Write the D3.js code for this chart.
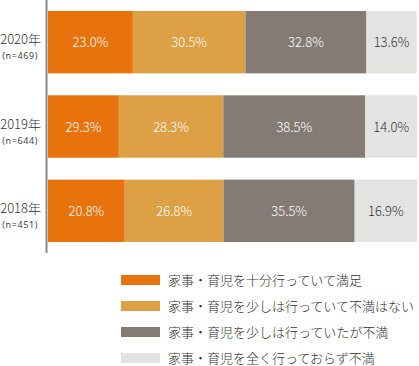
<!DOCTYPE html>
<html>
<head>
<meta charset="utf-8">
<script src="https://cdn.jsdelivr.net/npm/d3@7"></script>
<style>
  body { margin: 0; background: #fff; }
  svg { display: block; font-family: "Noto Sans CJK JP", "Noto Sans", sans-serif; }
</style>
</head>
<body>
<svg id="chart" width="419" height="366"></svg>
<script>
// rows, top to bottom
var years = ["2020年", "2019年", "2018年"];
var samples = ["(n=469)", "(n=644)", "(n=451)"];
var categories = [
  "家事・育児を十分行っていて満足",
  "家事・育児を少しは行っていて不満はない",
  "家事・育児を少しは行っていたが不満",
  "家事・育児を全く行っておらず不満"
];
// bar lengths as drawn (2019 orange is drawn ~19% though printed 29.3%)
var satisfied = [23.0, 19.2, 20.8];
var noComplaint = [30.5, 28.3, 26.8];
var someComplaint = [32.8, 38.5, 35.5];
var notAtAll = [13.6, 14.0, 16.9];
// printed labels
var satisfiedLabels = ["23.0%", "29.3%", "20.8%"];

var colors = ["#e8720c", "#dda045", "#857b75", "#e3e4e2"];
var textColors = ["#fff", "#fff", "#fff", "#333"];

var series = [satisfied, noComplaint, someComplaint, notAtAll];
var rows = years.map(function (y, i) {
  var acc = 0;
  return series.map(function (s, k) {
    var seg = { row: i, k: k, x0: acc, v: s[i],
      label: k === 0 ? satisfiedLabels[i] : s[i].toFixed(1) + "%" };
    acc += s[i];
    return seg;
  });
});

var svg = d3.select("#chart");

var x = d3.scaleLinear().domain([0, 100]).range([48, 417]);
var y = d3.scaleBand().domain(d3.range(years.length)).range([0, 253]).paddingInner(0.26).paddingOuter(0.13);

var g = svg.append("g");

rows.forEach(function (segs, i) {
  var row = g.append("g");
  row.selectAll("rect")
    .data(segs)
    .enter().append("rect")
    .attr("x", function (d) { return x(d.x0); })
    .attr("y", y(i))
    .attr("width", function (d) { return x(d.x0 + d.v) - x(d.x0); })
    .attr("height", y.bandwidth())
    .attr("fill", function (d) { return colors[d.k]; });

  row.selectAll("text")
    .data(segs)
    .enter().append("text")
    .attr("x", function (d) { return x(d.x0 + d.v / 2); })
    .attr("y", y(i) + y.bandwidth() / 2 + 5)
    .attr("text-anchor", "middle")
    .attr("font-size", 13)
    .attr("font-weight", 300)
    .attr("fill", function (d) { return textColors[d.k]; })
    .text(function (d) { return d.label; });

  // row labels
  g.append("text")
    .attr("x", 41)
    .attr("y", y(i) + y.bandwidth() / 2 + 2)
    .attr("text-anchor", "end")
    .attr("font-size", 13)
    .attr("font-weight", 300)
    .attr("fill", "#333")
    .text(years[i]);
  g.append("text")
    .attr("x", 38)
    .attr("y", y(i) + y.bandwidth() / 2 + 17)
    .attr("text-anchor", "end")
    .attr("font-family", "'Noto Sans', sans-serif")
    .attr("font-size", 9)
    .attr("letter-spacing", 0.6)
    .attr("fill", "#444")
    .text(samples[i]);
});

// baseline
g.append("line")
  .attr("x1", 46.5).attr("x2", 46.5)
  .attr("y1", 0).attr("y2", 253)
  .attr("stroke", "#888")
  .attr("stroke-width", 2);

// legend
var legend = svg.append("g").attr("transform", "translate(121,275)");
var items = legend.selectAll("g")
  .data(categories)
  .enter().append("g")
  .attr("transform", function (d, i) { return "translate(0," + (i * 26) + ")"; });
items.append("rect")
  .attr("width", 39).attr("height", 10)
  .attr("fill", function (d, i) { return colors[i]; });
items.append("text")
  .attr("x", 47).attr("y", 9.5)
  .attr("font-size", 13)
  .attr("font-weight", 300)
  .attr("fill", "#333")
  .text(function (d) { return d; });
</script>
</body>
</html>
